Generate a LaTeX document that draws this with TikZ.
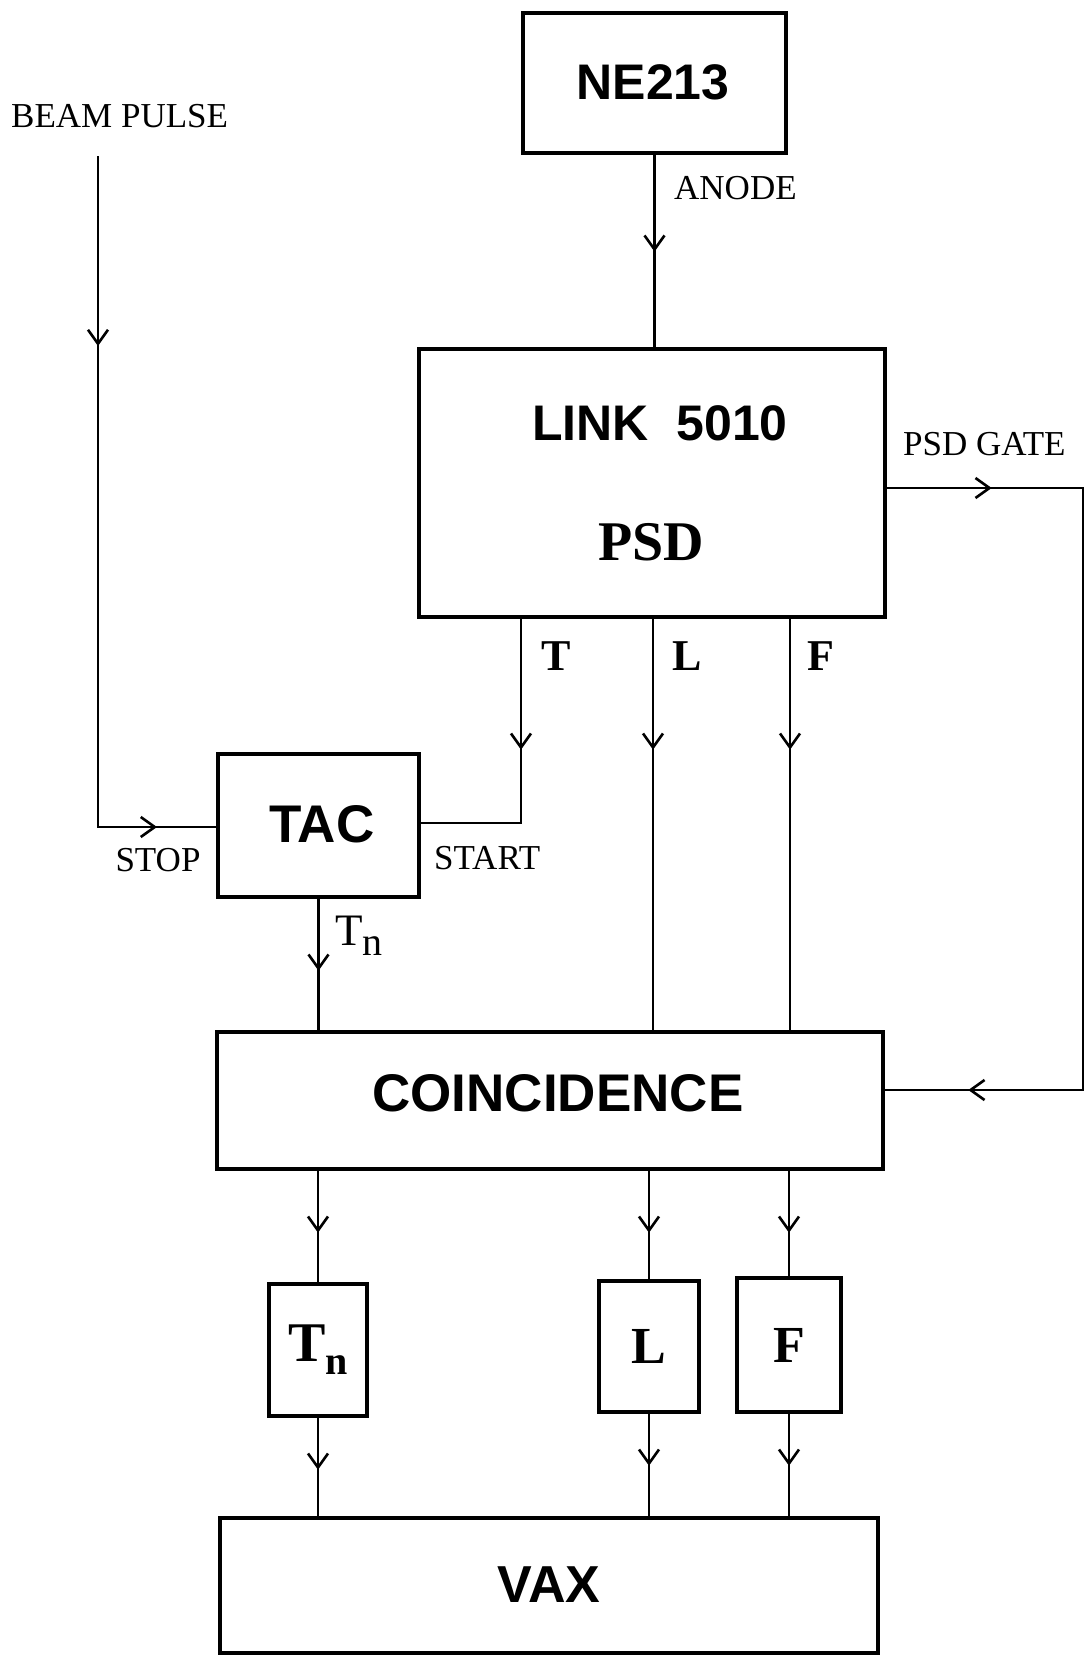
\documentclass[tikz,border=0pt]{standalone}
\usepackage{fontspec}
\setmainfont{Liberation Serif}
\newfontfamily\sansf{Liberation Sans}
\usetikzlibrary{arrows.meta,decorations.markings}
\tikzset{
  box/.style={draw,line width=3.4pt,inner sep=0pt},
  wire/.style={line width=2.6pt},
  barbtip/.tip={Straight Barb[length=14pt,width=20pt]},
  am/.style={postaction={decorate},decoration={markings,mark=at position #1 with {\arrow{barbtip}}}},
  amtwo/.style 2 args={postaction={decorate},decoration={markings,
     mark=at position #1 with {\arrow{barbtip}},
     mark=at position #2 with {\arrow{barbtip}}}},
  lbl/.style={font=\fontsize{35}{40}\selectfont,inner sep=0pt},
  sig/.style={font=\bfseries\fontsize{44}{50}\selectfont,inner sep=0pt},
  sbig/.style={font=\sansf\bfseries\fontsize{#1}{#1}\selectfont,inner sep=0pt},
}
\begin{document}
\begin{tikzpicture}[x=1pt,y=-1pt]
\useasboundingbox (0,0) rectangle (1086,1657);
% boxes
\node[box,minimum width=263pt,minimum height=140pt] (ne) at (654.5,83) {};
\node[sbig=50] (netxt) at (653,82) {NE213};
\node[box,minimum width=466pt,minimum height=268pt] (link) at (652,483) {};
\node[sbig=50] (linktxt) at (660,423) {LINK\ \ 5010};
\node[font=\bfseries\fontsize{56}{60}\selectfont,inner sep=0pt] (psdtxt) at (651,542) {PSD};
\node[box,minimum width=201pt,minimum height=143pt] (tac) at (318.5,825.5) {};
\node[sbig=53] (tactxt) at (322,824) {TAC};
\node[box,minimum width=666pt,minimum height=137pt] (coinc) at (550,1100.5) {};
\node[sbig=53] (ctxt) at (558,1093) {COINCIDENCE};
\node[box,minimum width=98pt,minimum height=132pt,font=\bfseries\fontsize{56}{60}\selectfont] (tnb) at (318,1350)
  {T\raisebox{-13pt}{\fontsize{40}{40}\selectfont n}};
\node[box,minimum width=100pt,minimum height=131pt,font=\bfseries\fontsize{52}{60}\selectfont] (lb) at (649,1346.5) {L};
\node[box,minimum width=104pt,minimum height=134pt,font=\bfseries\fontsize{52}{60}\selectfont] (fb) at (789,1345) {F};
\node[box,minimum width=658pt,minimum height=135pt] (vax) at (549,1585.5) {};
\node[sbig=52] (vaxtxt) at (549,1585) {VAX};
% labels
\node[lbl,anchor=west] (beam) at (11,116) {BEAM PULSE};
\node[lbl,anchor=west] (anode) at (674,188) {ANODE};
\node[lbl,anchor=base] (stop) at (158,871) {STOP};
\node[lbl,anchor=base west] (start) at (434,869) {START};
\node[lbl,anchor=west] (gate) at (903,444) {PSD GATE};
\node[sig] (tl) at (556,656) {T};
\node[sig] (ll) at (687,656) {L};
\node[sig] (fl) at (821,656) {F};
\node[font=\fontsize{45}{50}\selectfont,inner sep=0pt,anchor=base west] (tnl) at (335,945)
  {T\raisebox{-10pt}{\fontsize{40}{40}\selectfont n}};
% connectors
\coordinate (bp) at (98,156);
\coordinate (gtr) at (1083,488);
\coordinate (gbr) at (1083,1090);
\draw[wire,am=97pt] (ne.south) -- (ne.south |- link.north);
\draw[wire,amtwo={190pt}{730pt}] (bp) |- ([yshift=-1.5pt]tac.west);
\draw[wire,amtwo={105pt}{913pt}] ([yshift=-5pt]link.east) -- (gtr) -- (gbr) -- ([yshift=10.5pt]coinc.east);
\draw[wire,am=131pt] ([xshift=-131pt]link.south) |- ([yshift=2.5pt]tac.east);
\draw[wire,am=131pt] ([xshift=1pt]link.south) -- ([xshift=1pt]link.south |- coinc.north);
\draw[wire,am=131pt] ([xshift=138pt]link.south) -- ([xshift=138pt]link.south |- coinc.north);
\draw[wire,am=72pt] (tac.south) -- (tac.south |- coinc.north);
\draw[wire,am=62pt] (tnb.north |- coinc.south) -- (tnb.north);
\draw[wire,am=62pt] (lb.north |- coinc.south) -- (lb.north);
\draw[wire,am=62pt] (fb.north |- coinc.south) -- (fb.north);
\draw[wire,am=52pt] (tnb.south) -- (tnb.south |- vax.north);
\draw[wire,am=52pt] (lb.south) -- (lb.south |- vax.north);
\draw[wire,am=52pt] (fb.south) -- (fb.south |- vax.north);
\end{tikzpicture}
\end{document}
